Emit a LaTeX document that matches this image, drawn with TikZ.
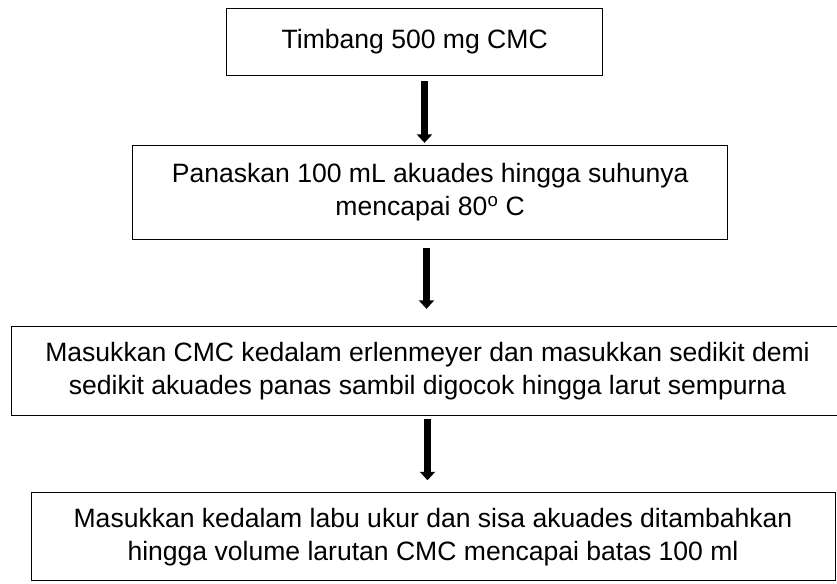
\documentclass[tikz,border=0pt]{standalone}
\usepackage{fontspec}
\setmainfont{Liberation Sans}
\usetikzlibrary{arrows.meta}
\begin{document}
\begin{tikzpicture}[x=1pt,y=-1pt,
  stepbox/.style={draw=black, line width=0.9pt, inner sep=0pt, align=center,
    font=\fontsize{26.55}{33}\selectfont},
  flowarrow/.style={line width=6.6pt, -{Triangle[width=15pt,length=8.5pt]}}]
\useasboundingbox (0,0) rectangle (837,583);
\node[stepbox, minimum width=376pt, minimum height=67.4pt] (b1) at (414.7,42) {Timbang 500 mg CMC};
\node[stepbox, minimum width=595pt, minimum height=93.6pt] (b2) at (430.2,192.5)
  {Panaskan 100 mL akuades hingga suhunya\\mencapai 80\textsuperscript{o} C};
\node[stepbox, minimum width=833pt, minimum height=88.3pt] (b3) at (427.5,370.85)
  {Masukkan CMC kedalam erlenmeyer dan masukkan sedikit demi\\sedikit akuades panas sambil digocok hingga larut sempurna};
\node[stepbox, minimum width=804pt, minimum height=88pt] (b4) at (433,536.7)
  {Masukkan kedalam labu ukur dan sisa akuades ditambahkan\\hingga volume larutan CMC mencapai batas 100 ml};
\draw[flowarrow] ([xshift=9.8pt,yshift=-5pt]b1.south) -- ([xshift=-5.7pt,yshift=2.4pt]b2.north);
\draw[flowarrow] ([xshift=-3.7pt,yshift=-8pt]b2.south) -- ([xshift=-1pt,yshift=17.4pt]b3.north);
\draw[flowarrow] ([yshift=-4pt]b3.south) -- ([xshift=-5.5pt,yshift=12pt]b4.north);
\end{tikzpicture}
\end{document}
